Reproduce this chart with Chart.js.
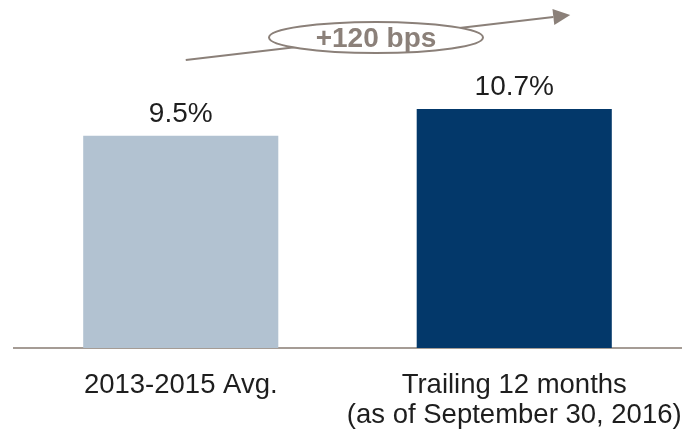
<!DOCTYPE html>
<html>
<head>
<meta charset="utf-8">
<script src="https://cdn.jsdelivr.net/npm/chart.js@4"></script>
<style>
  html, body { margin: 0; padding: 0; background: #fff; }
  #wrap { width: 684px; height: 433px; }
</style>
</head>
<body>
<div id="wrap"><canvas id="marginChart"></canvas></div>
<script>
// Margin comparison: historical average vs trailing twelve months
const categories = [
  '2013-2015 Avg.',
  ['Trailing 12 months', '(as of September 30, 2016)']
];
const marginValues = [9.5, 10.7];
const barColors = ['#b2c2d1', '#03386a'];
const yMax = 12;

const FONT = '"Liberation Sans", Arial, Helvetica, sans-serif';
const TEXT_COLOR = '#1e1e1e';
const NOTE_COLOR = '#8b8079';

// percent labels sitting above each bar
const valueLabels = {
  id: 'valueLabels',
  afterDatasetsDraw(chart) {
    const { ctx } = chart;
    const meta = chart.getDatasetMeta(0);
    ctx.save();
    ctx.font = '28px ' + FONT;
    ctx.fillStyle = TEXT_COLOR;
    ctx.textAlign = 'center';
    ctx.textBaseline = 'alphabetic';
    meta.data.forEach((bar, i) => {
      ctx.fillText(marginValues[i].toFixed(1) + '%', bar.x, bar.y - 14);
    });
    ctx.restore();
  }
};

// rising arrow with the bps change in an oval callout
const changeArrow = {
  id: 'changeArrow',
  afterDraw(chart) {
    const { ctx } = chart;
    const meta = chart.getDatasetMeta(0);
    const b0 = meta.data[0], b1 = meta.data[1];
    const x0 = b0.x + 5, y0 = 60;
    const tipX = b1.x + 56, tipY = 15;
    const dx = tipX - x0, dy = tipY - y0;
    const len = Math.hypot(dx, dy);
    const ux = dx / len, uy = dy / len;
    const headLen = 17, headHalf = 8;
    const baseX = tipX - ux * headLen, baseY = tipY - uy * headLen;

    ctx.save();
    ctx.strokeStyle = NOTE_COLOR;
    ctx.fillStyle = NOTE_COLOR;
    ctx.lineWidth = 2;
    ctx.beginPath();
    ctx.moveTo(x0, y0);
    ctx.lineTo(baseX, baseY);
    ctx.stroke();

    ctx.beginPath();
    ctx.moveTo(tipX, tipY);
    ctx.lineTo(baseX - uy * headHalf, baseY + ux * headHalf);
    ctx.lineTo(baseX + uy * headHalf, baseY - ux * headHalf);
    ctx.closePath();
    ctx.fill();

    // oval callout
    const cx = 376, cy = 37.5;
    ctx.beginPath();
    ctx.ellipse(cx, cy, 107, 15.5, 0, 0, Math.PI * 2);
    ctx.fillStyle = '#ffffff';
    ctx.fill();
    ctx.lineWidth = 2;
    ctx.stroke();

    const bps = Math.round((marginValues[1] - marginValues[0]) * 100);
    ctx.fillStyle = NOTE_COLOR;
    ctx.font = 'bold 28px ' + FONT;
    ctx.textAlign = 'center';
    ctx.textBaseline = 'middle';
    ctx.fillText('+' + bps + ' bps', cx, cy + 2);
    ctx.restore();
  }
};

new Chart(document.getElementById('marginChart'), {
  type: 'bar',
  data: {
    labels: categories,
    datasets: [{
      data: marginValues,
      backgroundColor: barColors,
      borderWidth: 0,
      barPercentage: 0.585,
      categoryPercentage: 1
    }]
  },
  options: {
    responsive: true,
    maintainAspectRatio: false,
    animation: false,
    layout: { padding: { top: 80, left: 14, right: 3, bottom: 0 } },
    plugins: {
      legend: { display: false },
      tooltip: { enabled: false }
    },
    scales: {
      x: {
        grid: { display: false, drawTicks: false },
        border: { display: true, color: '#a59c95', width: 2 },
        ticks: {
          color: TEXT_COLOR,
          font: { family: FONT, size: 27.5, lineHeight: 1.09 },
          padding: 22,
          maxRotation: 0,
          autoSkip: false
        },
        afterFit(scale) {
          // keep the wide two-line label from squeezing the plot area
          scale.height = 85;
          scale.paddingLeft = 0;
          scale.paddingRight = 0;
        }
      },
      y: {
        display: false,
        min: 0,
        max: yMax
      }
    }
  },
  plugins: [valueLabels, changeArrow]
});
</script>
</body>
</html>
